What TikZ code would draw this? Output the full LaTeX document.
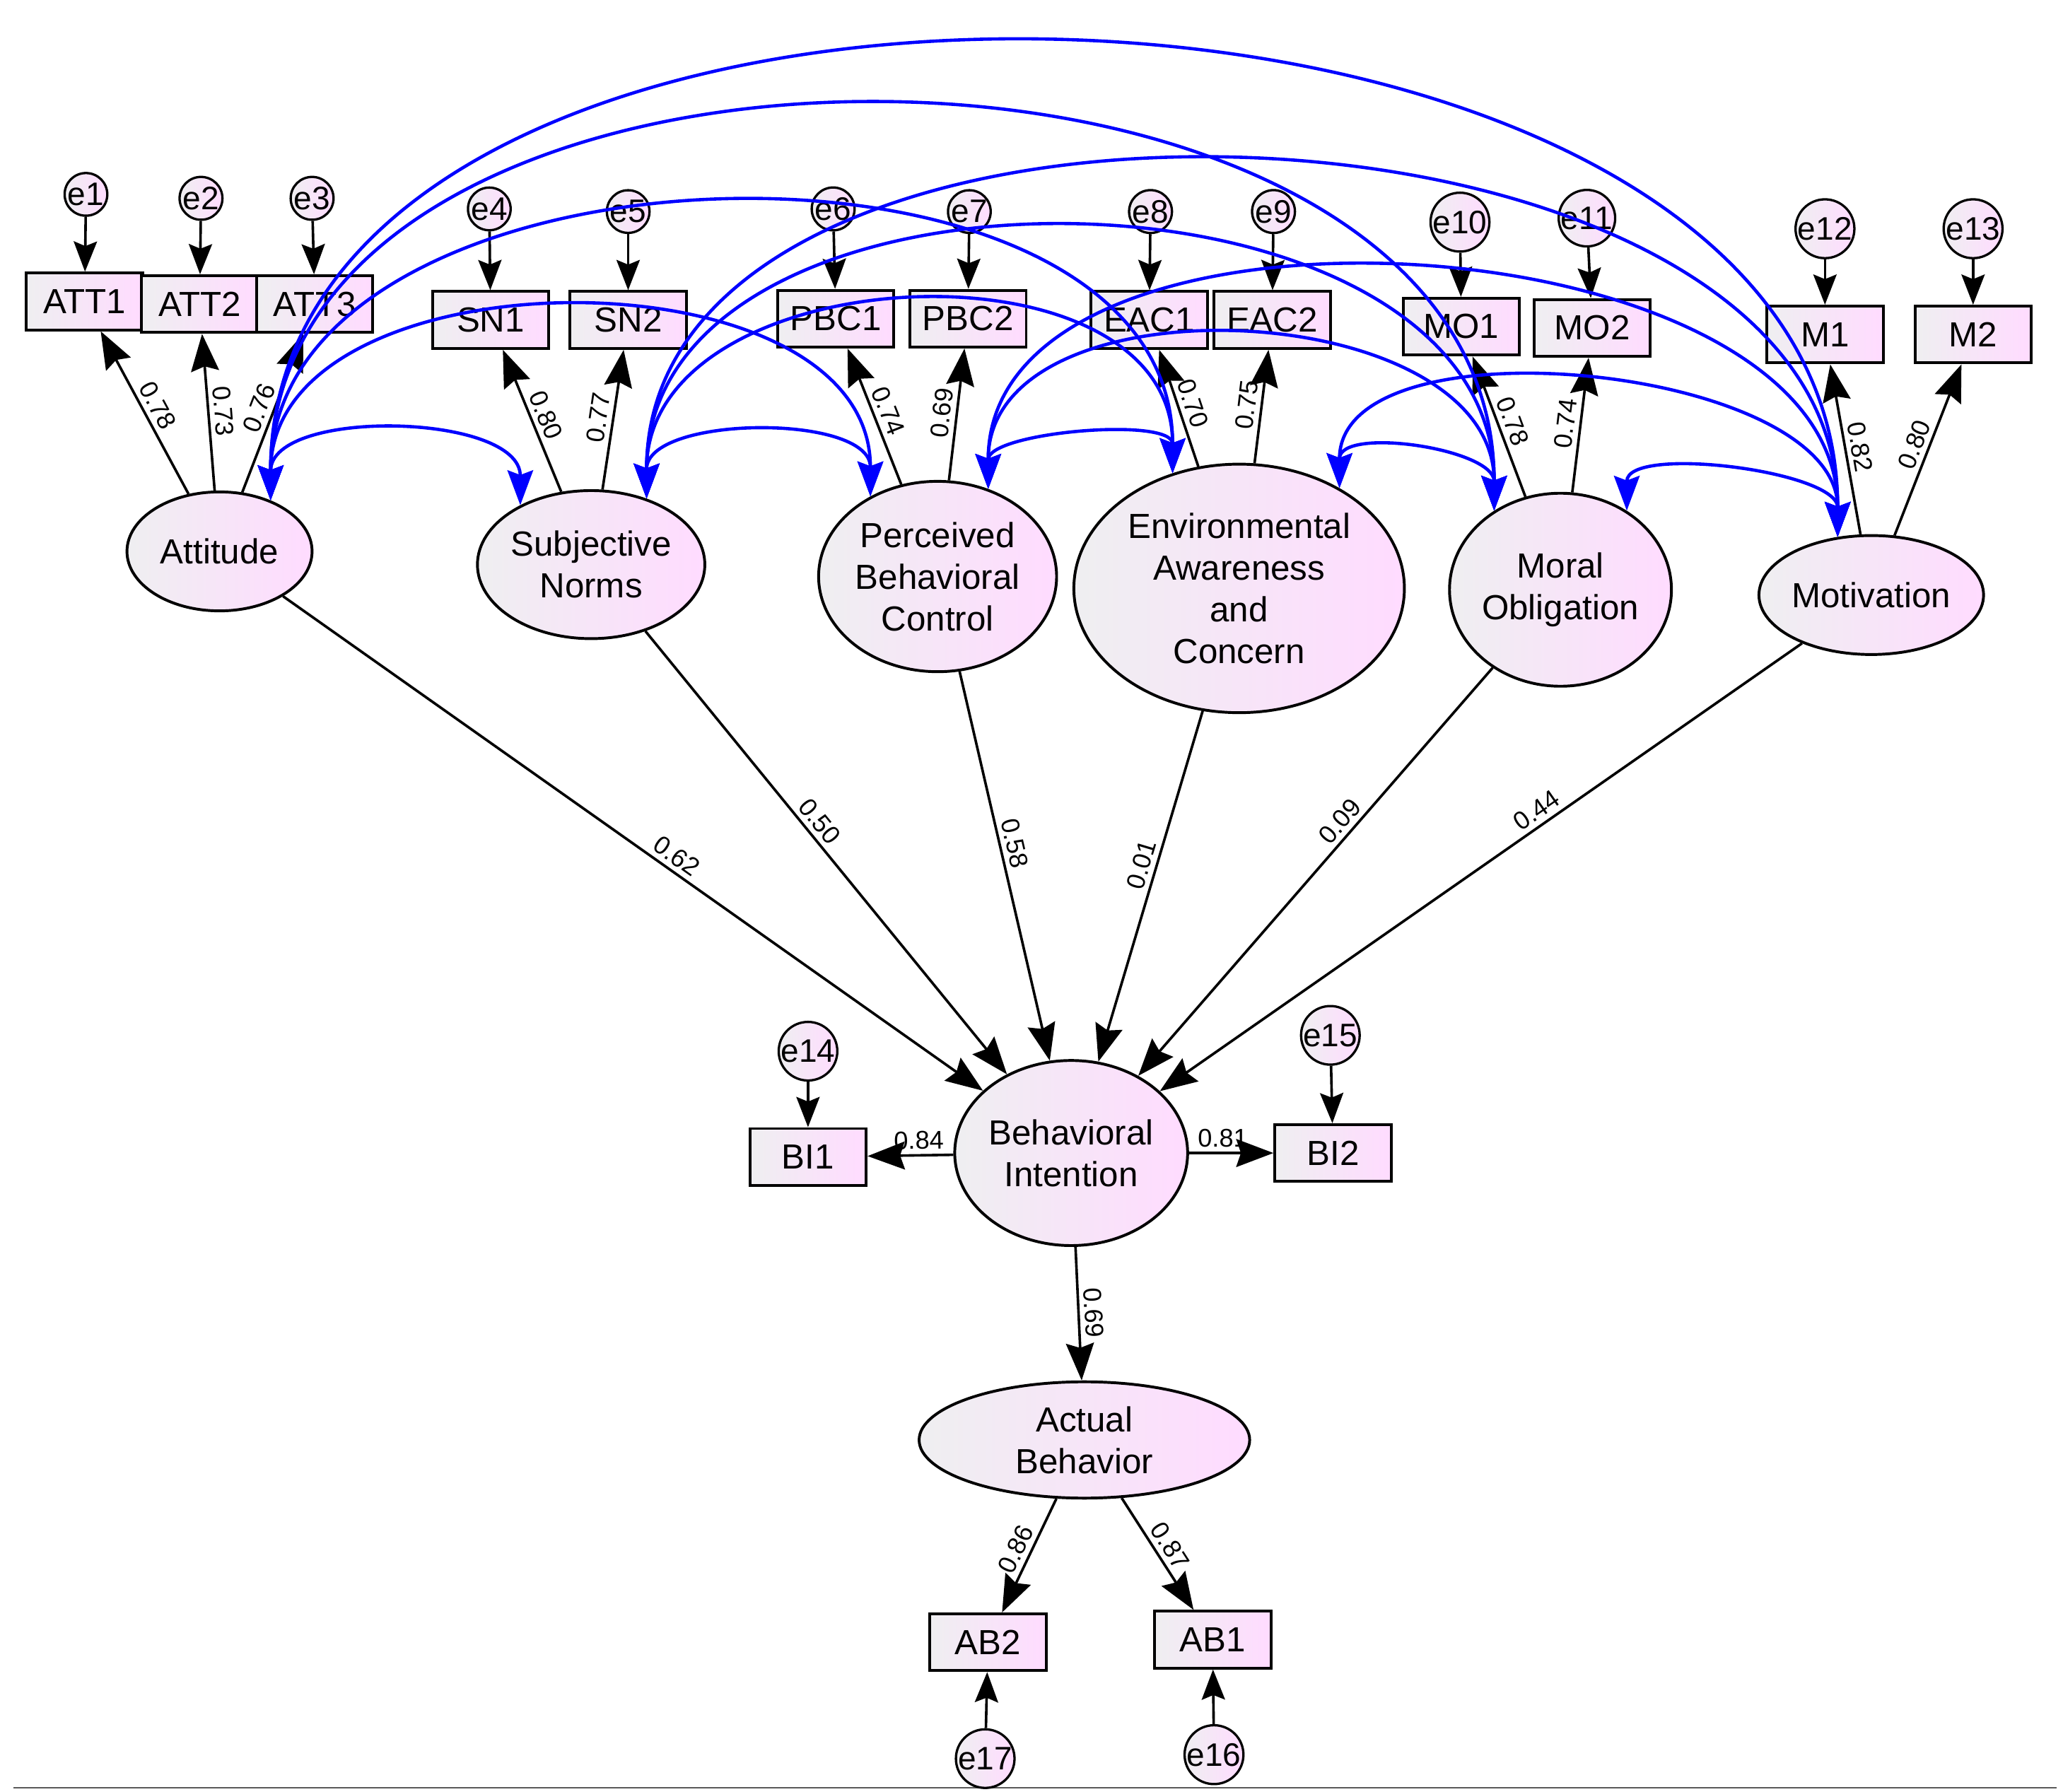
\documentclass[tikz,border=0pt]{standalone}
\usepackage{fontspec}
\setmainfont{Liberation Sans}
\usetikzlibrary{shapes.geometric,arrows.meta,calc}
\begin{document}
\begin{tikzpicture}[x=0.02cm,y=-0.02cm,
  shade/.style={left color=blue!6!gray!12, right color=magenta!14},
  lat/.style={ellipse, draw, line width=1.2pt, shade, inner sep=0pt, align=center, font=\fontsize{15}{18}\selectfont},
  obs/.style={rectangle, draw, line width=1.2pt, shade, minimum width=1.76cm, minimum height=0.86cm, inner sep=0pt, font=\fontsize{15}{18}\selectfont},
  err/.style={circle, draw, line width=1pt, shade, minimum size=0.6cm, inner sep=0pt, font=\fontsize{14}{16}\selectfont},
  path/.style={line width=1.1pt, -{Stealth[length=16pt,width=12pt,inset=2pt]}},
  epath/.style={line width=1.1pt, -{Stealth[length=13pt,width=10pt,inset=2pt]}},
  cov/.style={blue, line width=1.4pt, {Stealth[length=15pt,width=11pt,inset=2pt]}-{Stealth[length=15pt,width=11pt,inset=2pt]}},
  lab/.style={font=\fontsize{11}{13}\selectfont, sloped, above, inner sep=2pt}]
\useasboundingbox (0,0) rectangle (1560,1355);
\draw[gray!70!black, line width=0.8pt] (10,1352) -- (1555,1352);

% latent variables
\node[lat, minimum width=2.8cm, minimum height=1.8cm] (att) at (166,417) {Attitude};
\node[lat, minimum width=3.2cm, minimum height=2.24cm] (sn) at (447,427) {Subjective\\Norms};
\node[lat, minimum width=3.6cm, minimum height=2.88cm] (pbc) at (709,436) {Perceived\\Behavioral\\Control};
\node[lat, minimum width=5cm, minimum height=3.76cm] (eac) at (937,445) {Environmental\\Awareness\\and\\Concern};
\node[lat, minimum width=3.08cm, minimum height=2.92cm] (mo) at (1180,446) {Moral\\Obligation};
\node[lat, minimum width=2.92cm, minimum height=1.8cm] (mot) at (1415,450) {Motivation};
\node[lat, minimum width=3.2cm, minimum height=2.8cm] (bi) at (810,872) {Behavioral\\Intention};
\node[lat, minimum width=5cm, minimum height=1.76cm] (ab) at (820,1089) {Actual\\Behavior};

% indicators
\foreach \n/\t/\x/\y in {att1/ATT1/64/228, att2/ATT2/151/230, att3/ATT3/238/230,
  sn1/SN1/371/242, sn2/SN2/475/242, pbc1/PBC1/632/241, pbc2/PBC2/732/241,
  eac1/EAC1/869/242, eac2/EAC2/962/242, mo1/MO1/1105/247, mo2/MO2/1204/248,
  m1/M1/1380/253, m2/M2/1492/253, bi1/BI1/611/875, bi2/BI2/1008/872,
  ab2/AB2/747/1242, ab1/AB1/917/1240}
  \node[obs] (\n) at (\x,\y) {\t};

% errors
\foreach \n/\t/\x/\y/\b in {e1/e1/65/147/att1, e2/e2/152/150/att2, e3/e3/236/150/att3,
  e4/e4/370/158/sn1, e5/e5/475/160/sn2, e6/e6/630/158/pbc1, e7/e7/733/160/pbc2,
  e8/e8/870/160/eac1, e9/e9/963/160/eac2, e10/e10/1104/168/mo1, e11/e11/1200/165/mo2,
  e12/e12/1380/173/m1, e13/e13/1492/173/m2, e14/e14/611/795/bi1, e15/e15/1006/783/bi2,
  e17/e17/745/1330/ab2, e16/e16/918/1327/ab1}
  {\node[err] (\n) at (\x,\y) {\t};
   \draw[epath] (\n) -- (\b);}

% loadings
\draw[path] (att) -- node[lab]{0.78} (att1);
\draw[path] (att) -- node[lab]{0.73} (att2);
\draw[path] (att) -- node[lab]{0.76} (att3);
\draw[path] (sn) -- node[lab]{0.80} (sn1);
\draw[path] (sn) -- node[lab]{0.77} (sn2);
\draw[path] (pbc) -- node[lab]{0.74} (pbc1);
\draw[path] (pbc) -- node[lab]{0.69} (pbc2);
\draw[path] (eac) -- node[lab]{0.70} (eac1);
\draw[path] (eac) -- node[lab]{0.75} (eac2);
\draw[path] (mo) -- node[lab]{0.78} (mo1);
\draw[path] (mo) -- node[lab]{0.74} (mo2);
\draw[path] (mot) -- node[lab]{0.82} (m1);
\draw[path] (mot) -- node[lab]{0.80} (m2);
\draw[path] (bi) -- node[lab, pos=0.4]{0.84} (bi1);
\draw[path] (bi) -- node[lab, pos=0.4]{0.81} (bi2);
\draw[path] (ab) -- node[lab]{0.86} (ab2);
\draw[path] (ab) -- node[lab]{0.87} (ab1);

% structural paths
\draw[path] (att) -- node[lab, pos=0.55]{0.62} (bi);
\draw[path] (sn) -- node[lab, pos=0.45]{0.50} (bi);
\draw[path] (pbc) -- node[lab, pos=0.45]{0.58} (bi);
\draw[path] (eac) -- node[lab, pos=0.45]{0.01} (bi);
\draw[path] (mo) -- node[lab, pos=0.4]{0.09} (bi);
\draw[path] (mot) -- node[lab, pos=0.4]{0.44} (bi);
\draw[path] (bi) -- node[lab]{0.69} (ab);

% covariances
\foreach \a/\b/\d in {att.45/sn.140/70, att.45/pbc.130/190, att.45/eac.120/283,
  att.45/mo.130/400, att.45/mot.120/476,
  sn.50/pbc.130/63, sn.50/eac.120/183, sn.50/mo.130/276, sn.50/mot.120/356,
  pbc.60/eac.120/43, pbc.60/mo.130/163, pbc.60/mot.120/243,
  eac.45/mo.130/47, eac.45/mot.120/130, mo.50/mot.120/50}
  \draw[cov] (\a) .. controls ($(\a)+(0,-\d)$) and ($(\b)+(0,-\d)$) .. (\b);
\end{tikzpicture}
\end{document}
